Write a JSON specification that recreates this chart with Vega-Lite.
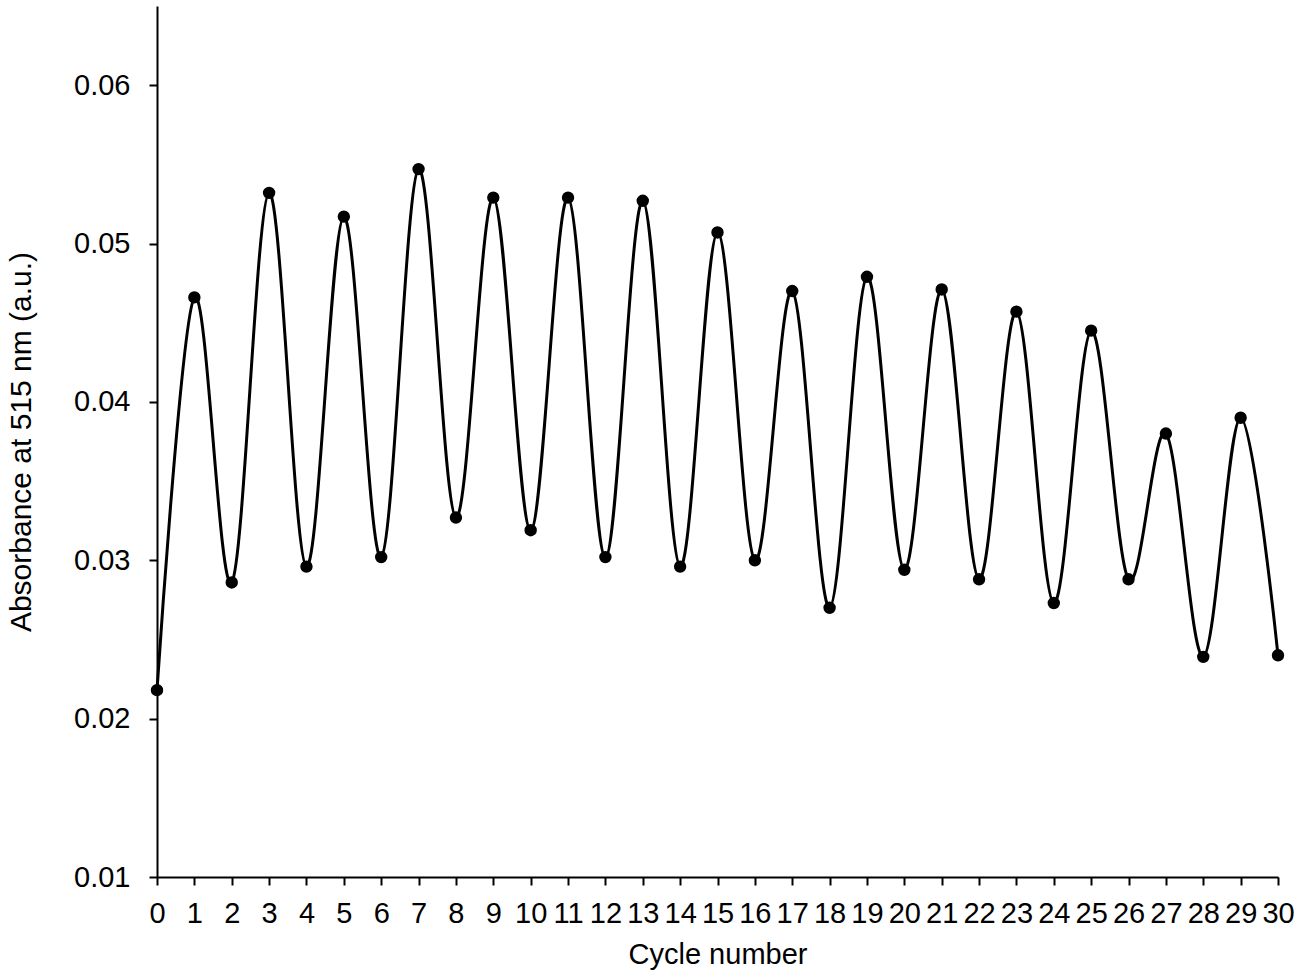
{
  "$schema": "https://vega.github.io/schema/vega-lite/v6.json",
  "width": 1121,
  "height": 871,
  "autosize": {"type": "none"},
  "padding": {"left": 157, "top": 6, "right": 23, "bottom": 95},
  "background": "white",
  "config": {
    "view": {"stroke": null},
    "font": "Liberation Sans"
  },
  "data": {
    "values": [
      {"cycle": 0, "abs": 0.0218},
      {"cycle": 1, "abs": 0.0466},
      {"cycle": 2, "abs": 0.0286},
      {"cycle": 3, "abs": 0.0532},
      {"cycle": 4, "abs": 0.0296},
      {"cycle": 5, "abs": 0.0517},
      {"cycle": 6, "abs": 0.0302},
      {"cycle": 7, "abs": 0.0547},
      {"cycle": 8, "abs": 0.0327},
      {"cycle": 9, "abs": 0.0529},
      {"cycle": 10, "abs": 0.0319},
      {"cycle": 11, "abs": 0.0529},
      {"cycle": 12, "abs": 0.0302},
      {"cycle": 13, "abs": 0.0527},
      {"cycle": 14, "abs": 0.0296},
      {"cycle": 15, "abs": 0.0507},
      {"cycle": 16, "abs": 0.0300},
      {"cycle": 17, "abs": 0.0470},
      {"cycle": 18, "abs": 0.0270},
      {"cycle": 19, "abs": 0.0479},
      {"cycle": 20, "abs": 0.0294},
      {"cycle": 21, "abs": 0.0471},
      {"cycle": 22, "abs": 0.0288},
      {"cycle": 23, "abs": 0.0457},
      {"cycle": 24, "abs": 0.0273},
      {"cycle": 25, "abs": 0.0445},
      {"cycle": 26, "abs": 0.0288},
      {"cycle": 27, "abs": 0.0380},
      {"cycle": 28, "abs": 0.0239},
      {"cycle": 29, "abs": 0.0390},
      {"cycle": 30, "abs": 0.0240}
    ]
  },
  "encoding": {
    "x": {
      "field": "cycle",
      "type": "quantitative",
      "scale": {"domain": [0, 30], "nice": false, "zero": false},
      "axis": {
        "title": "Cycle number",
        "values": [0,1,2,3,4,5,6,7,8,9,10,11,12,13,14,15,16,17,18,19,20,21,22,23,24,25,26,27,28,29,30],
        "format": "d",
        "grid": false,
        "domainColor": "black",
        "domainWidth": 2,
        "tickColor": "black",
        "tickWidth": 2,
        "tickSize": 8,
        "labelFontSize": 29,
        "labelColor": "black",
        "labelPadding": 14,
        "labelFlush": false,
        "labelOverlap": false,
        "titleFontSize": 29,
        "titleFontWeight": "normal",
        "titleColor": "black",
        "titlePadding": 12
      }
    },
    "y": {
      "field": "abs",
      "type": "quantitative",
      "scale": {"domain": [0.01, 0.065], "nice": false, "zero": false},
      "axis": {
        "title": "Absorbance at 515 nm (a.u.)",
        "values": [0.01, 0.02, 0.03, 0.04, 0.05, 0.06],
        "format": ".2f",
        "grid": false,
        "domainColor": "black",
        "domainWidth": 2,
        "tickColor": "black",
        "tickWidth": 2,
        "tickSize": 8,
        "labelFontSize": 29,
        "labelColor": "black",
        "labelPadding": 19,
        "labelFlush": false,
        "labelOverlap": false,
        "titleFontSize": 30,
        "titleFontWeight": "normal",
        "titleColor": "black",
        "titlePadding": 37
      }
    }
  },
  "layer": [
    {
      "mark": {"type": "line", "interpolate": "cardinal", "color": "black", "strokeWidth": 3}
    },
    {
      "mark": {"type": "point", "filled": true, "shape": "circle", "size": 154, "color": "black", "opacity": 1}
    }
  ]
}
